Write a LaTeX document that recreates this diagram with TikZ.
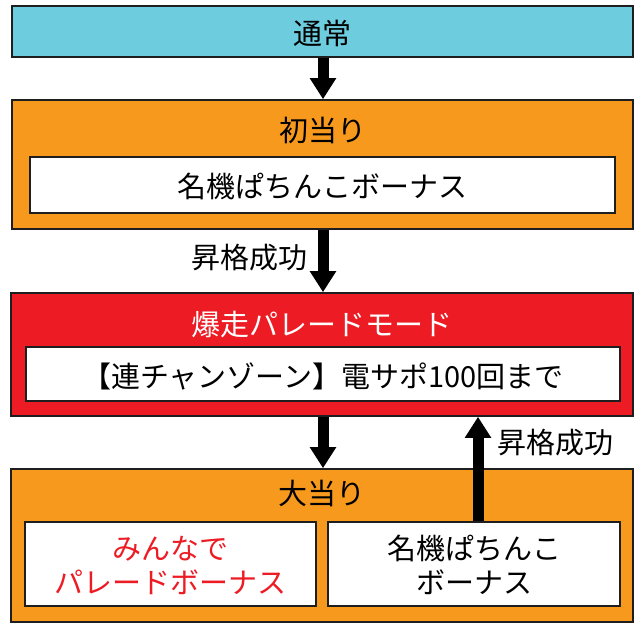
\documentclass[tikz,border=0pt]{standalone}
\usepackage{fontspec}
\newfontfamily\jp{Noto Sans CJK JP}
\usetikzlibrary{arrows.meta}
\definecolor{cyanbox}{HTML}{6DCCDD}
\definecolor{orangebox}{HTML}{F7991D}
\definecolor{redbox}{HTML}{ED1C24}
\definecolor{edge}{HTML}{1E1E1E}
\tikzset{
  box/.style={draw=edge, line width=1.6pt, inner sep=0pt, rectangle},
  txt/.style={font=\jp\fontsize{29}{34}\selectfont, inner sep=0pt, align=center},
  bigarrow/.style={line width=11pt, -{Triangle[width=25pt,length=21pt]}, black},
}
\begin{document}
\begin{tikzpicture}[x=1pt,y=-1pt]
\useasboundingbox (0,0) rectangle (640,631);
% boxes
\node[box, fill=cyanbox, minimum width=621pt, minimum height=51pt] (normal) at (322.5,31.5) {};
\node[box, fill=orangebox, minimum width=621pt, minimum height=129pt] (first) at (322.5,164.5) {};
\node[box, fill=white, minimum width=585pt, minimum height=56pt] (firstin) at (322.5,185) {};
\node[box, fill=redbox, minimum width=622pt, minimum height=123pt] (mode) at (322,354.5) {};
\node[box, fill=white, minimum width=594pt, minimum height=54pt] (modein) at (323,374) {};
\node[box, fill=orangebox, minimum width=622pt, minimum height=153pt] (big) at (322,545.5) {};
\node[box, fill=white, minimum width=291pt, minimum height=84pt] (bigL) at (170.5,564) {};
\node[box, fill=white, minimum width=292pt, minimum height=84pt] (bigR) at (474,564) {};
% texts
\node[txt] (t1) at (322.5,33) {通常};
\node[txt] (t2) at (322.5,130) {初当り};
\node[txt] (t2in) at (322.5,186) {名機ぱちんこボーナス};
\node[txt, text=white] (t3) at (322,325) {爆走パレードモード};
\node[txt] (t3in) at (323,376) {【連チャンゾーン】電サポ100回まで};
\node[txt] (t4) at (322,493) {大当り};
\node[txt, text=redbox] (t4L) at (170.5,565) {みんなで\\パレードボーナス};
\node[txt] (t4R) at (474,565) {名機ぱちんこ\\ボーナス};
\node[txt] (lab1) at (249.5,258) {昇格成功};
\node[txt] (lab2) at (555,443) {昇格成功};
% arrows
\coordinate (ax) at (323,0);
\coordinate (ux) at (478,0);
\draw[bigarrow] (normal.south -| ax) -- (first.north -| ax);
\draw[bigarrow] (first.south -| ax) -- (mode.north -| ax);
\draw[bigarrow] (mode.south -| ax) -- (big.north -| ax);
\draw[bigarrow] (bigR.north -| ux) -- (mode.south -| ux);
\end{tikzpicture}
\end{document}
